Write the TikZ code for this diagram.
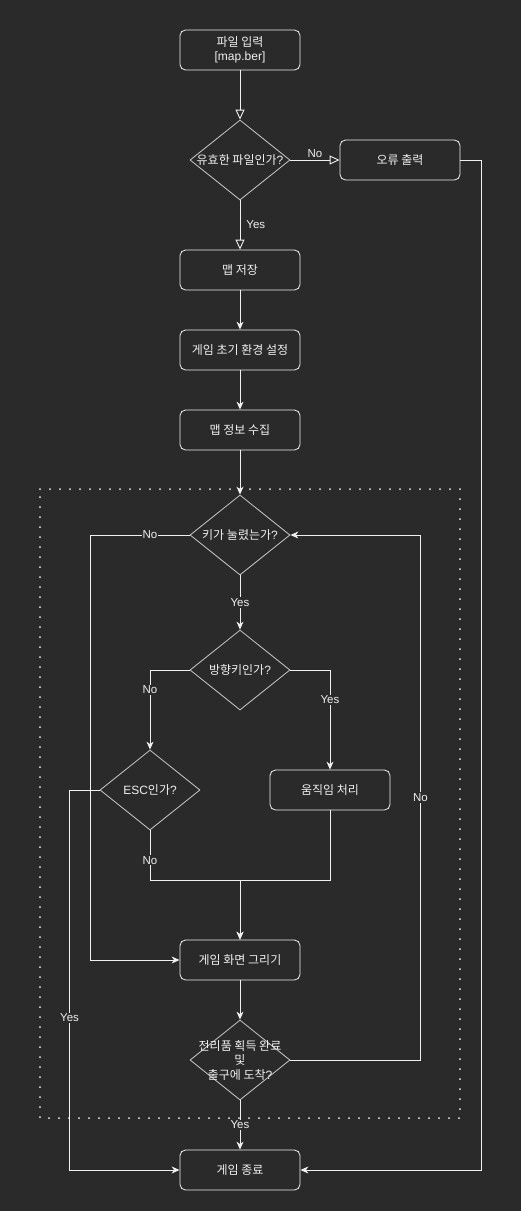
\documentclass[tikz,border=0pt]{standalone}
\usepackage{fontspec}
\setmainfont{Noto Sans CJK KR}
\newfontfamily\latinf{Liberation Sans}
\usetikzlibrary{arrows.meta,shapes.geometric}
\definecolor{bg}{HTML}{2A2A2A}
\definecolor{fg}{HTML}{F0F0F0}
\definecolor{edgec}{HTML}{C8C8C8}
\begin{document}
\begin{tikzpicture}[x=1pt,y=1pt,
  box/.style={draw=fg, rounded corners=5.5pt, minimum width=120pt, minimum height=40pt, inner sep=0pt, text=fg, font=\fontsize{12}{14.5}\selectfont, align=center, line width=0.8pt},
  dec/.style={draw=edgec, diamond, minimum width=100pt, minimum height=80pt, inner sep=0pt, line width=0.8pt},
  dtxt/.style={text=fg, font=\fontsize{12}{14.5}\selectfont, align=center, inner sep=0pt},
  conn/.style={draw=fg, line width=0.9pt},
  farrow/.style={conn, -{Stealth[length=8pt,width=7pt,inset=2.5pt]}},
  harrow/.style={conn, -{Triangle[length=10pt,width=9pt,fill=bg]}},
  lbl/.style={fill=bg, text=fg, font=\latinf\fontsize{11.5}{13}\selectfont, inner sep=1pt},
  lblfree/.style={text=fg, font=\latinf\fontsize{11.5}{13}\selectfont, inner sep=1pt},
  dotframe/.style={draw=fg, line width=2pt, line cap=round, dash pattern=on 0pt off 10pt}
]
\fill[bg] (0,0) rectangle (521,-1211);
\useasboundingbox (0,0) rectangle (521,-1211);

% dotted frame
\draw[dotframe] (40,-489) -- (460,-489) -- (460,-1118) -- (40,-1118) -- cycle;

% nodes
\node[box] (inp) at (240,-50) {파일 입력\\{\latinf [map.ber]}};
\node[dec] (valid) at (240,-160) {};
\node[dtxt] (validt) at (valid) {유효한 파일인가{\latinf ?}};
\node[box] (err) at (400,-160) {오류 출력};
\node[box] (save) at (240,-270) {맵 저장};
\node[box] (init) at (240,-350) {게임 초기 환경 설정};
\node[box] (info) at (240,-430) {맵 정보 수집};
\node[dec] (key) at (240,-535) {};
\node[dtxt] (keyt) at (key) {키가 눌렸는가{\latinf ?}};
\node[dec] (dir) at (240,-670) {};
\node[dtxt] (dirt) at (dir) {방향키인가{\latinf ?}};
\node[dec] (esc) at (150,-790) {};
\node[dtxt] (esct) at (esc) {{\latinf ESC}인가{\latinf ?}};
\node[box] (mov) at (330,-790) {움직임 처리};
\node[box] (scr) at (240,-960) {게임 화면 그리기};
\node[dec] (loot) at (240,-1060) {};
\node[dtxt] (loott) at (loot) {전리품 획득 완료\\및\\출구에 도착{\latinf ?}};
\node[box] (end) at (240,-1170) {게임 종료};

% connectors
\draw[harrow] (inp) -- (valid);
\draw[harrow] (valid) -- node[lblfree, above=1pt]{No} (err);
\draw[harrow] (valid) -- node[lblfree, right=5pt]{Yes} (save);
\draw[farrow] (err.east) -- ++(21,0) |- (end.east);
\draw[farrow] (save) -- (init);
\draw[farrow] (init) -- (info);
\draw[farrow] (info) -- (key);
\draw[farrow] (key.west) -- node[lbl, pos=0.4]{No} ++(-99,0) |- (scr.west);
\draw[farrow] (key) -- node[lbl]{Yes} (dir);
\draw[farrow] (dir.west) -| node[lbl, pos=0.625]{No} (esc.north);
\draw[farrow] (dir.east) -| node[lbl, pos=0.65]{Yes} (mov.north);
\draw[farrow] (esc.west) -- ++(-30,0) |- node[lbl, pos=0.3]{Yes} (end.west);
\draw[farrow] (esc.south) -- node[lbl, pos=0.6]{No} ++(0,-50) -| (scr.north);
\draw[farrow] (mov.south) -- ++(0,-70) -| (scr.north);
\draw[farrow] (scr) -- (loot);
\draw[farrow] (loot.east) -- ++(130,0) |- node[lbl, pos=0.25]{No} (key.east);
\draw[farrow] (loot) -- node[lbl]{Yes} (end);
\end{tikzpicture}
\end{document}
